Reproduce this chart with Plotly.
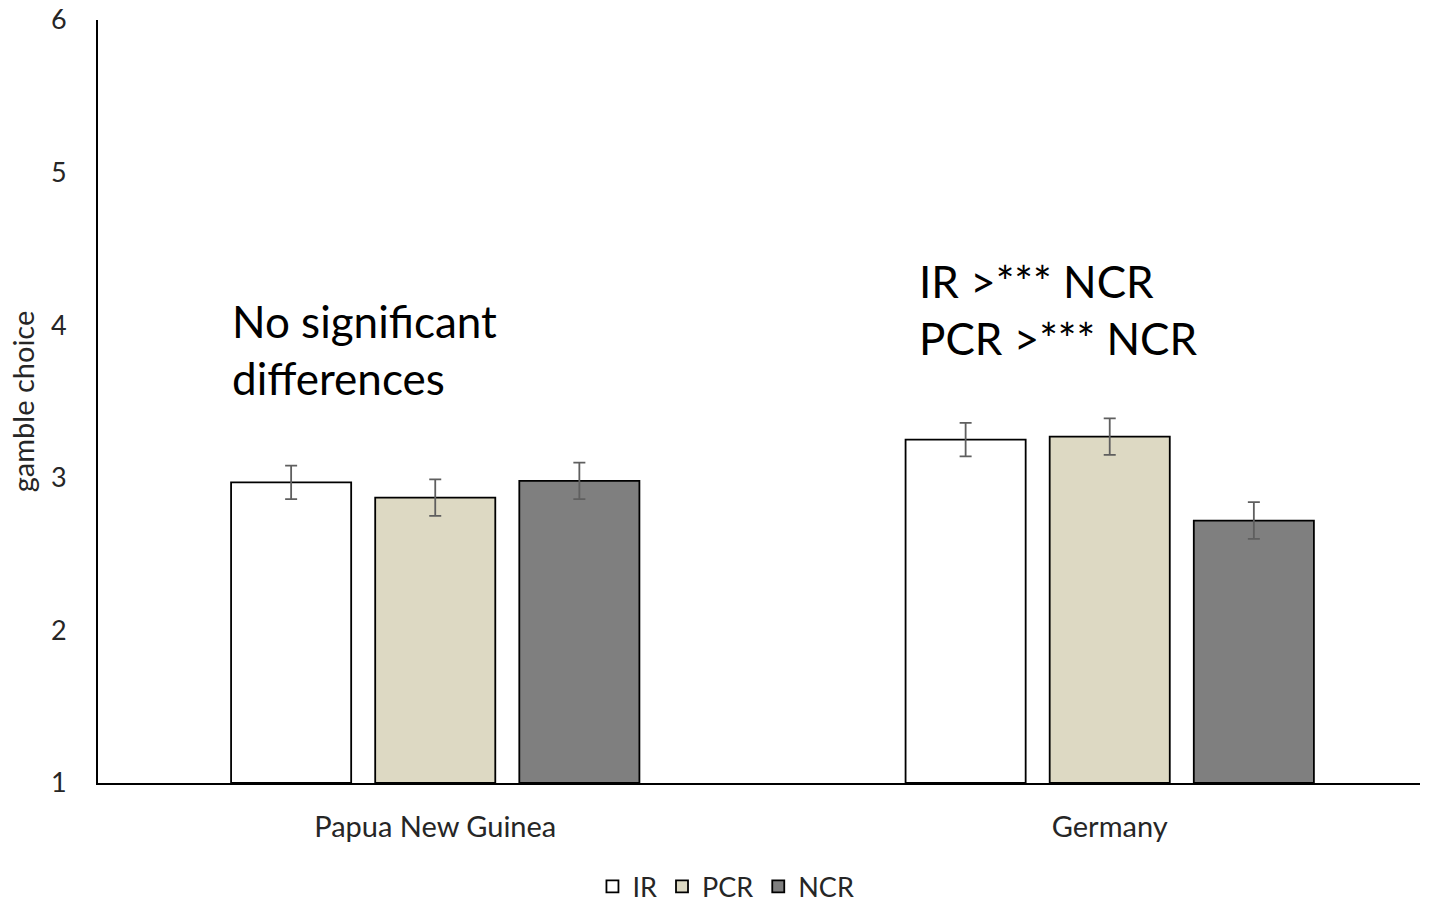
import plotly.graph_objects as go

categories = ["Papua New Guinea", "Germany"]
series_names = ["IR", "PCR", "NCR"]
ir_values = [2.97, 3.25]
pcr_values = [2.87, 3.27]
ncr_values = [2.98, 2.72]
ir_err = [0.11, 0.11]
pcr_err = [0.12, 0.12]
ncr_err = [0.12, 0.12]
colors = ["#FFFFFF", "#DDD9C3", "#7F7F7F"]
y_ticks = [1, 2, 3, 4, 5, 6]

FONT = "Lato"
TXT = "#262626"
fig = go.Figure()
for name, vals, errs, col in zip(series_names, [ir_values, pcr_values, ncr_values],
                                 [ir_err, pcr_err, ncr_err], colors):
    fig.add_trace(go.Bar(
        name=name, x=[0, 1], y=[v - 1 for v in vals], base=1,
        marker=dict(color=col, line=dict(color="#000000", width=1.8)),
        error_y=dict(type="data", array=errs, color="#5f5f5f", thickness=1.8, width=6),
    ))

fig.update_layout(
    width=1435, height=902,
    margin=dict(l=98, r=15, t=20, b=119, autoexpand=False),
    paper_bgcolor="white", plot_bgcolor="white",
    barmode="group", bargap=0.359, bargroupgap=0.1667,
    font=dict(family=FONT, color=TXT),
    showlegend=True,
    legend=dict(orientation="h", x=0.475, xanchor="center", y=-0.136, yanchor="middle",
                font=dict(size=27, family=FONT, color=TXT), itemwidth=30,
                traceorder="normal"),
    xaxis=dict(range=[-0.5, 1.46], tickvals=[0, 1], ticktext=categories,
               showline=True, linecolor="#000000", linewidth=1.8, showgrid=False,
               ticks="outside", ticklen=17, tickcolor="rgba(0,0,0,0)",
               tickfont=dict(size=29, family=FONT, color=TXT),
               zeroline=False),
    yaxis=dict(range=[1, 6], tickvals=y_ticks, showline=True, linecolor="#000000",
               linewidth=1.8, showgrid=False, ticks="outside", ticklen=24,
               tickcolor="rgba(0,0,0,0)", zeroline=False,
               tickfont=dict(size=27, family=FONT, color=TXT),
               title=dict(text="gamble choice", font=dict(size=29, family=FONT, color=TXT),
                          standoff=8)),
    annotations=[
        dict(text="No significant<br>differences", x=-0.305, y=3.84, xref="x", yref="y",
             xanchor="left", yanchor="middle", showarrow=False, align="left",
             font=dict(size=44, family=FONT, color="#000000")),
        dict(text="IR >*** NCR<br>PCR >*** NCR", x=0.714, y=4.1, xref="x", yref="y",
             xanchor="left", yanchor="middle", showarrow=False, align="left",
             font=dict(size=44, family=FONT, color="#000000")),
    ],
)

fig.write_html("out.html")
